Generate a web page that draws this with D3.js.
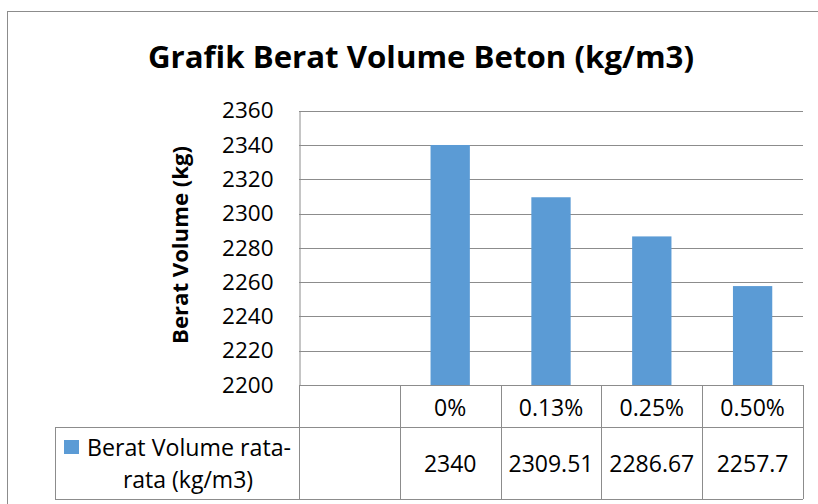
<!DOCTYPE html>
<html>
<head>
<meta charset="utf-8">
<script src="https://cdn.jsdelivr.net/npm/d3@7"></script>
<style>
  body { margin: 0; background: #fff; }
  svg { display: block; font-family: "Open Sans", "Noto Sans", sans-serif; }
</style>
</head>
<body>
<div id="chart"></div>
<script>
// Data
const categories = ["", "0%", "0.13%", "0.25%", "0.50%"];
const values = [null, 2340, 2309.51, 2286.67, 2257.7];
const yTicks = [2200, 2220, 2240, 2260, 2280, 2300, 2320, 2340, 2360];
const seriesName = ["Berat Volume rata-", "rata (kg/m3)"];

const W = 818, H = 504;
const plot = {left: 299, right: 803, top: 110.7, bottom: 385};
const row1 = 427, row2 = 499, legendLeft = 55;
const gridColor = "#8c8c8c";
const barColor = "#5b9bd5";

const svg = d3.select("#chart")
  .append("svg")
  .attr("width", W)
  .attr("height", H);

// outer chart border
svg.append("rect")
  .attr("x", 7.5).attr("y", 11.5)
  .attr("width", 830).attr("height", 520)
  .attr("fill", "none")
  .attr("stroke", "#8c8c8c");

// Title
svg.append("text")
  .attr("x", 421).attr("y", 68)
  .attr("text-anchor", "middle")
  .style("font-size", "31px")
  .style("font-weight", "bold")
  .attr("textLength", 546)
  .attr("lengthAdjust", "spacingAndGlyphs")
  .text("Grafik Berat Volume Beton (kg/m3)");

// Scales
const x = d3.scaleBand().domain(categories).range([plot.left, plot.right]);
const y = d3.scaleLinear().domain([2200, 2360]).range([plot.bottom, plot.top]);

// gridlines
svg.append("g")
  .selectAll("line")
  .data(yTicks)
  .join("line")
  .attr("x1", plot.left).attr("x2", plot.right)
  .attr("y1", d => Math.round(y(d)) + 0.5)
  .attr("y2", d => Math.round(y(d)) + 0.5)
  .attr("stroke", gridColor);

// y axis with labels
const yAxis = d3.axisLeft(y).tickValues(yTicks).tickSize(0).tickPadding(26)
  .tickFormat(d3.format("d"));
const gy = svg.append("g")
  .attr("transform", "translate(" + (plot.left + 0.5) + ",0)")
  .call(yAxis);
gy.select(".domain").attr("stroke", gridColor);
gy.selectAll(".tick text")
  .attr("fill", "#000")
  .style("font-size", "22.5px")
  .style("font-family", "'Open Sans', sans-serif");

// Axis title
svg.append("text")
  .attr("transform", "translate(188,245) rotate(-90)")
  .attr("text-anchor", "middle")
  .style("font-size", "22px")
  .style("font-weight", "bold")
  .attr("textLength", 198)
  .attr("lengthAdjust", "spacingAndGlyphs")
  .text("Berat Volume (kg)");

// Bars
const barW = x.bandwidth() * 0.39;
svg.append("g")
  .selectAll("rect")
  .data(categories.map((c, i) => ({c: c, v: values[i]})).filter(d => d.v !== null))
  .join("rect")
  .attr("x", d => x(d.c) + (x.bandwidth() - barW) / 2)
  .attr("y", d => y(d.v))
  .attr("width", barW)
  .attr("height", d => y(2200) - y(d.v))
  .attr("fill", barColor);

// Data table
const table = svg.append("g").attr("stroke", gridColor).attr("fill", "none");
table.append("line")
  .attr("x1", legendLeft).attr("x2", plot.right)
  .attr("y1", row1 + 0.5).attr("y2", row1 + 0.5);
table.append("line")
  .attr("x1", legendLeft).attr("x2", plot.right)
  .attr("y1", row2 + 0.5).attr("y2", row2 + 0.5);
table.append("line")
  .attr("x1", legendLeft + 0.5).attr("x2", legendLeft + 0.5)
  .attr("y1", row1).attr("y2", row2);
table.selectAll("line.col")
  .data(categories.concat(["end"]))
  .join("line")
  .attr("class", "col")
  .attr("x1", (d, i) => Math.round(i < categories.length ? x(d) : plot.right) + 0.5)
  .attr("x2", (d, i) => Math.round(i < categories.length ? x(d) : plot.right) + 0.5)
  .attr("y1", plot.bottom).attr("y2", row2);

// category labels
svg.append("g")
  .selectAll("text")
  .data(categories)
  .join("text")
  .attr("x", d => x(d) + x.bandwidth() / 2)
  .attr("y", 416)
  .attr("text-anchor", "middle")
  .style("font-size", "23px")
  .text(d => d);

// values row
svg.append("g")
  .selectAll("text")
  .data(categories.map((c, i) => ({c: c, v: values[i]})).filter(d => d.v !== null))
  .join("text")
  .attr("x", d => x(d.c) + x.bandwidth() / 2)
  .attr("y", 472)
  .attr("text-anchor", "middle")
  .style("font-size", "23px")
  .text(d => String(d.v));

// legend
svg.append("rect")
  .attr("x", 64).attr("y", 440)
  .attr("width", 15).attr("height", 14)
  .attr("fill", barColor);
svg.append("text")
  .attr("x", 87).attr("y", 456)
  .style("font-size", "23px")
  .attr("textLength", 204)
  .attr("lengthAdjust", "spacingAndGlyphs")
  .text(seriesName[0]);
svg.append("text")
  .attr("x", 188).attr("y", 488)
  .attr("text-anchor", "middle")
  .style("font-size", "23px")
  .text(seriesName[1]);
</script>
</body>
</html>
